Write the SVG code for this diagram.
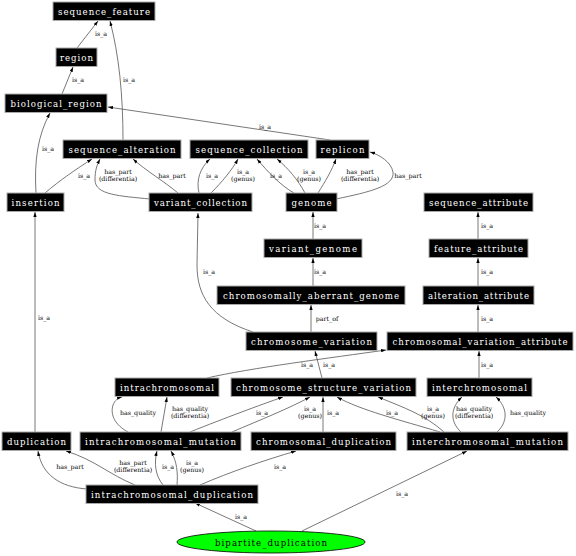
<svg xmlns="http://www.w3.org/2000/svg" width="576" height="556" viewBox="0 0 576 556">
<style>
.n rect{fill:#000;stroke:#aaa;stroke-width:1}
.n text{fill:#fff;font-family:"DejaVu Serif",serif;font-size:8.6px;text-anchor:middle}
.e path{fill:none;stroke:#555;stroke-width:0.8;marker-end:url(#ah)}
.l text{font-family:"DejaVu Serif",serif;font-size:6.3px;text-anchor:middle;fill:#000}
</style>
<defs>
<marker id="ah" viewBox="0 0 6 4" refX="6" refY="2" markerWidth="5" markerHeight="3.6" markerUnits="userSpaceOnUse" orient="auto"><path d="M0,0 L6,2 L0,4 z" fill="#000"/></marker>
</defs>
<rect width="576" height="556" fill="#fff"/>
<g class="e" id="edges">
<path d="M77,48 L98,21"/>
<path d="M123,140 C123,95 119,55 110,21"/>
<path d="M62,94 L73,67"/>
<path d="M330,140 L108,107"/>
<path d="M36,193 C34,160 38,135 50,113"/>
<path d="M45,193 C60,180 78,168 92,159"/>
<path d="M150,199 C120,196 95,195 95,180 C95,170 97,165 100,159"/>
<path d="M178,193 C165,182 145,170 133,159"/>
<path d="M199,193 C196,180 200,168 210,159"/>
<path d="M211,193 C222,182 232,170 238,159"/>
<path d="M294,193 C280,185 268,172 257,159"/>
<path d="M305,193 C298,180 288,168 277,159"/>
<path d="M318,193 C325,182 332,170 336,159"/>
<path d="M336,199 C370,192 395,186 393,172 C391,162 380,155 370,152"/>
<path d="M313,239 L313,212"/>
<path d="M313,286 L313,258"/>
<path d="M311,332 L311,305"/>
<path d="M253,332 C210,318 197,295 197,265 L198,213"/>
<path d="M478,239 L478,212"/>
<path d="M478,286 L478,258"/>
<path d="M478,332 L478,305"/>
<path d="M479,378 L479,351"/>
<path d="M207,378 C250,368 330,358 386,350"/>
<path d="M322,378 L315,351"/>
<path d="M128,432 C115,425 110,415 113,405 C115,400 118,398 122,397"/>
<path d="M161,432 L167,397"/>
<path d="M190,432 C225,418 260,405 283,397"/>
<path d="M232,432 C260,420 290,408 310,397"/>
<path d="M323,432 L323,397"/>
<path d="M440,432 C400,420 360,410 337,397"/>
<path d="M444,432 C425,415 405,408 378,397"/>
<path d="M461,432 C450,422 450,408 462,397"/>
<path d="M497,432 C508,422 508,408 496,397"/>
<path d="M35,432 L35,212"/>
<path d="M87,489 C60,487 42,475 38,451"/>
<path d="M135,485 C110,475 95,460 66,451"/>
<path d="M163,485 C155,475 154,463 157,451"/>
<path d="M177,485 C178,473 177,462 171,451"/>
<path d="M200,485 C230,472 265,460 296,451"/>
<path d="M256,531 L195,503"/>
<path d="M302,531 L467,451"/>
</g>
<g class="l" id="labels">
<text x="101" y="36">is_a</text>
<text x="129" y="82">is_a</text>
<text x="78" y="82">is_a</text>
<text x="265" y="129">is_a</text>
<text x="48" y="151">is_a</text>
<text x="84" y="178">is_a</text>
<text x="118" y="174">has_part</text><text x="118" y="181">(differentia)</text>
<text x="172" y="178">has_part</text>
<text x="212" y="178">is_a</text>
<text x="243" y="174">is_a</text><text x="243" y="181">(genus)</text>
<text x="276" y="178">is_a</text>
<text x="309" y="174">is_a</text><text x="309" y="181">(genus)</text>
<text x="360" y="174">has_part</text><text x="360" y="181">(differentia)</text>
<text x="408" y="178">has_part</text>
<text x="320" y="228">is_a</text>
<text x="320" y="274">is_a</text>
<text x="327" y="321">part_of</text>
<text x="209" y="274">is_a</text>
<text x="487" y="228">is_a</text>
<text x="487" y="274">is_a</text>
<text x="487" y="321">is_a</text>
<text x="487" y="367">is_a</text>
<text x="307" y="367">is_a</text>
<text x="329" y="367">is_a</text>
<text x="138" y="415">has_quality</text>
<text x="190" y="411">has_quality</text><text x="190" y="418">(differentia)</text>
<text x="262" y="415">is_a</text>
<text x="310" y="411">is_a</text><text x="310" y="418">(genus)</text>
<text x="333" y="415">is_a</text>
<text x="392" y="415">is_a</text>
<text x="433" y="411">is_a</text><text x="433" y="418">(genus)</text>
<text x="474" y="411">has_quality</text><text x="474" y="418">(differentia)</text>
<text x="528" y="415">has_quality</text>
<text x="44" y="320">is_a</text>
<text x="70" y="469">has_part</text>
<text x="133" y="465">has_part</text><text x="133" y="472">(differentia)</text>
<text x="168" y="469">is_a</text>
<text x="192" y="465">is_a</text><text x="192" y="472">(genus)</text>
<text x="280" y="469">is_a</text>
<text x="241" y="519">is_a</text>
<text x="402" y="496">is_a</text>
</g>
<g class="n" id="sequence_feature"><rect x="53" y="2" width="102" height="18.5"/><text x="104" y="14.5" textLength="92" lengthAdjust="spacing">sequence_feature</text></g>
<g class="n" id="region"><rect x="56" y="48" width="41" height="18.5"/><text x="76.5" y="60.5" textLength="33" lengthAdjust="spacing">region</text></g>
<g class="n" id="biological_region"><rect x="5" y="94" width="102" height="18.5"/><text x="56" y="106.5" textLength="91" lengthAdjust="spacing">biological_region</text></g>
<g class="n" id="sequence_alteration"><rect x="63" y="140" width="118" height="18.5"/><text x="122" y="152.5" textLength="107" lengthAdjust="spacing">sequence_alteration</text></g>
<g class="n" id="sequence_collection"><rect x="190" y="140" width="118" height="18.5"/><text x="249" y="152.5" textLength="107" lengthAdjust="spacing">sequence_collection</text></g>
<g class="n" id="replicon"><rect x="316" y="140" width="53" height="18.5"/><text x="342.5" y="152.5" textLength="44" lengthAdjust="spacing">replicon</text></g>
<g class="n" id="insertion"><rect x="7" y="193" width="57" height="18.5"/><text x="35.5" y="205.5" textLength="48" lengthAdjust="spacing">insertion</text></g>
<g class="n" id="variant_collection"><rect x="149" y="193" width="103" height="18.5"/><text x="200.5" y="205.5" textLength="93" lengthAdjust="spacing">variant_collection</text></g>
<g class="n" id="genome"><rect x="286" y="193" width="51" height="18.5"/><text x="311.5" y="205.5" textLength="40" lengthAdjust="spacing">genome</text></g>
<g class="n" id="sequence_attribute"><rect x="424" y="193" width="109" height="18.5"/><text x="478.5" y="205.5" textLength="99" lengthAdjust="spacing">sequence_attribute</text></g>
<g class="n" id="variant_genome"><rect x="264" y="239" width="98" height="18.5"/><text x="313" y="251.5" textLength="88" lengthAdjust="spacing">variant_genome</text></g>
<g class="n" id="feature_attribute"><rect x="429" y="239" width="99" height="18.5"/><text x="478.5" y="251.5" textLength="89" lengthAdjust="spacing">feature_attribute</text></g>
<g class="n" id="chromosomally_aberrant_genome"><rect x="217" y="286" width="188" height="18.5"/><text x="311" y="298.5" textLength="176" lengthAdjust="spacing">chromosomally_aberrant_genome</text></g>
<g class="n" id="alteration_attribute"><rect x="423" y="286" width="111" height="18.5"/><text x="478.5" y="298.5" textLength="101" lengthAdjust="spacing">alteration_attribute</text></g>
<g class="n" id="chromosome_variation"><rect x="246" y="332" width="131" height="18.5"/><text x="311.5" y="344.5" textLength="121" lengthAdjust="spacing">chromosome_variation</text></g>
<g class="n" id="chromosomal_variation_attribute"><rect x="387" y="332" width="186" height="18.5"/><text x="480" y="344.5" textLength="175" lengthAdjust="spacing">chromosomal_variation_attribute</text></g>
<g class="n" id="intrachromosomal"><rect x="115" y="378" width="104" height="18.5"/><text x="167" y="390.5" textLength="94" lengthAdjust="spacing">intrachromosomal</text></g>
<g class="n" id="chromosome_structure_variation"><rect x="231" y="378" width="185" height="18.5"/><text x="323.5" y="390.5" textLength="175" lengthAdjust="spacing">chromosome_structure_variation</text></g>
<g class="n" id="interchromosomal"><rect x="427" y="378" width="105" height="18.5"/><text x="479.5" y="390.5" textLength="95" lengthAdjust="spacing">interchromosomal</text></g>
<g class="n" id="duplication"><rect x="2" y="432" width="69" height="18.5"/><text x="36.5" y="444.5" textLength="59" lengthAdjust="spacing">duplication</text></g>
<g class="n" id="intrachromosomal_mutation"><rect x="80" y="432" width="161" height="18.5"/><text x="160.5" y="444.5" textLength="151" lengthAdjust="spacing">intrachromosomal_mutation</text></g>
<g class="n" id="chromosomal_duplication"><rect x="251" y="432" width="145" height="18.5"/><text x="323.5" y="444.5" textLength="135" lengthAdjust="spacing">chromosomal_duplication</text></g>
<g class="n" id="interchromosomal_mutation"><rect x="407" y="432" width="161" height="18.5"/><text x="487.5" y="444.5" textLength="151" lengthAdjust="spacing">interchromosomal_mutation</text></g>
<g class="n" id="intrachromosomal_duplication"><rect x="86" y="485" width="172" height="18.5"/><text x="172" y="497.5" textLength="162" lengthAdjust="spacing">intrachromosomal_duplication</text></g>
<g id="bipartite_duplication"><ellipse cx="271" cy="542" rx="94" ry="11" fill="#00ff00" stroke="#000" stroke-width="0.8"/><text x="271" y="545.5" font-family="DejaVu Serif, serif" font-size="8.6" text-anchor="middle" textLength="112" lengthAdjust="spacing">bipartite_duplication</text></g>
</svg>
